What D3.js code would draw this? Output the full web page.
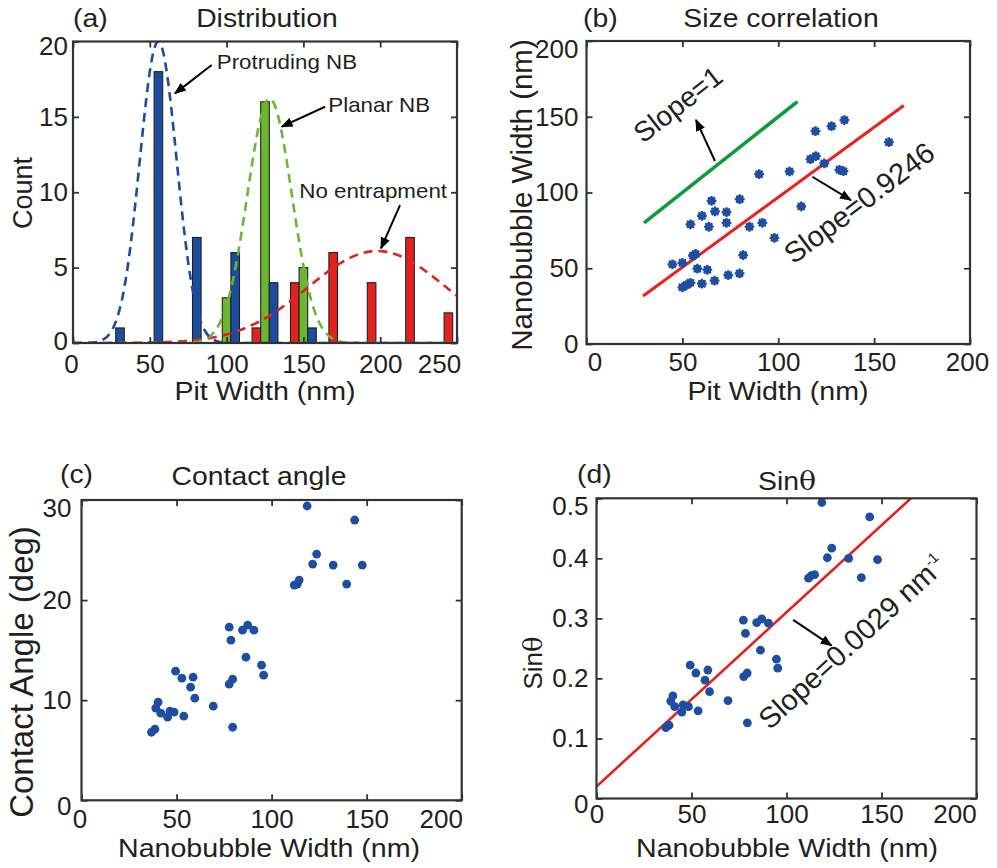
<!DOCTYPE html>
<html><head><meta charset="utf-8">
<script src="https://cdn.jsdelivr.net/npm/d3@7"></script>
<style>body{margin:0;background:#fff}</style>
</head><body>
<svg id="c" width="997" height="868" xmlns="http://www.w3.org/2000/svg"></svg>
<script>
// ---------- Panel (a): Distribution ----------
const binCenters = [25, 50, 75, 100, 125, 150, 175, 200, 225, 250];
const seriesNames = ["No entrapment", "Planar NB", "Protruding NB"];
const noEntrapCounts = [0, 0, 0, 0, 1, 4, 6, 4, 7, 2];
const planarCounts = [0, 0, 0, 3, 16, 5, 0, 0, 0, 0];
const protrudingCounts = [1, 18, 7, 6, 4, 1, 0, 0, 0, 0];
// Gaussian fits (amplitude, centre, sigma) in the same series order
const gaussAmp = [6.1, 16.2, 20];
const gaussMu = [198, 128, 55.5];
const gaussSigma = [45, 14.5, 12];
const xTicksA = [0, 50, 100, 150, 200, 250];
const yTicksA = [0, 5, 10, 15, 20];

// ---------- Panel (b): Size correlation ----------
const pitWidthB = [44.8, 50, 54.2, 55.5, 56.9, 57.8, 60.2, 63, 63.8, 65.2, 67, 73, 73, 66.8, 60.2, 54.2, 52.1, 50, 73.9, 79.8, 79.9, 81.7, 85, 90, 91.7, 98, 105.9, 112, 116.8, 119.6, 124, 119.4, 127.8, 134.5, 131.9, 134, 157.7];
const nbWidthB = [52.6, 53.6, 79, 58.3, 59.4, 49.7, 84.6, 49, 77.4, 94.5, 87.5, 87.1, 80, 41.8, 39.8, 40.4, 38.9, 37.4, 45.5, 46.6, 95.6, 58.7, 77.4, 112.1, 80, 70.1, 113.9, 90.8, 122, 124, 119.2, 140.5, 143.8, 147.8, 115, 114.1, 133.2];
const refLineX = [30, 110], refLineY = [80, 160];          // slope = 1
const fitLineBX = [29.5, 165.5], fitLineBY = [31.7, 157.4]; // slope = 0.9246
const ticksB = [0, 50, 100, 150, 200];

// ---------- Panel (c): Contact angle ----------
const nbWidthC = [118.7, 143.7, 123.7, 121.6, 132.4, 147.7, 139.5, 111.9, 113.5, 114.5, 77.7, 84.7, 87.4, 90.7, 78.6, 86.5, 94.7, 95.8, 49.5, 52.8, 58.7, 57.4, 59.6, 77.7, 79.5, 69.3, 79.5, 40.3, 39.1, 41.7, 46.5, 48.7, 45.3, 53.8, 36.8, 38.6];
const contactAngle = [29.4, 28.0, 24.6, 23.6, 23.5, 23.5, 21.6, 21.5, 21.6, 22.0, 17.3, 17.0, 17.5, 17.0, 16.0, 14.3, 13.5, 12.5, 12.9, 12.2, 12.3, 11.3, 10.2, 11.6, 12.1, 9.4, 7.3, 9.8, 9.2, 8.7, 8.9, 8.8, 8.3, 8.4, 6.8, 7.1];
const xTicksC = [0, 50, 100, 150, 200];
const yTicksC = [0, 10, 20, 30];

// ---------- Panel (d): Sin theta ----------
const nbWidthD = [118.6, 143.8, 123.8, 121.5, 132.7, 147.9, 139.4, 111.6, 113, 114.8, 77.3, 84.3, 87, 90.5, 78.4, 86.3, 94.7, 95.4, 77.5, 79.3, 69.2, 79.4, 49.3, 52.3, 58.6, 57.1, 59.5, 40.2, 39.1, 41.2, 45.6, 48.4, 44.9, 53.5, 36.5, 38.2];
const sinTheta = [0.493, 0.469, 0.417, 0.401, 0.400, 0.398, 0.368, 0.367, 0.371, 0.373, 0.297, 0.293, 0.299, 0.292, 0.275, 0.247, 0.232, 0.217, 0.203, 0.209, 0.163, 0.126, 0.222, 0.209, 0.214, 0.197, 0.178, 0.171, 0.162, 0.153, 0.156, 0.153, 0.144, 0.146, 0.118, 0.122];
const fitLineDX = [0, 165.5], fitLineDY = [0.02, 0.5];      // slope = 0.0029 nm^-1
const xTicksD = [0, 50, 100, 150, 200];
const yTicksD = [0, 0.1, 0.2, 0.3, 0.4, 0.5];

// ================= drawing =================
const svg = d3.select("#c");
const FONT = "'Liberation Sans', Arial, Helvetica, sans-serif";
const INK = "#231f20";
const BOX = "#333333";
const BLUE = "#1b4c9e", GREEN = "#6cb632", RED = "#e3211f";
const DOT = "#1d4ea2";
const SX = 1.09; // horizontal stretch of the original lettering

const defs = svg.append("defs");
defs.append("marker").attr("id", "arr").attr("viewBox", "0 0 10 10")
  .attr("refX", 9).attr("refY", 5).attr("markerWidth", 6).attr("markerHeight", 6)
  .attr("markerUnits", "strokeWidth").attr("orient", "auto")
  .append("path").attr("d", "M0,1 L10,5 L0,9 Z").attr("fill", "#000");

function htext(g, x, y, str, size, anchor, sx) {
  return g.append("text")
    .attr("transform", `translate(${x},${y}) scale(${sx || SX},1)`)
    .attr("text-anchor", anchor || "middle")
    .attr("font-family", FONT).attr("font-size", size).attr("fill", INK)
    .text(str);
}
function rtext(g, x, y, str, size, angle, anchor) {
  return g.append("text")
    .attr("transform", `translate(${x},${y}) rotate(${angle})`)
    .attr("text-anchor", anchor || "middle")
    .attr("font-family", FONT).attr("font-size", size).attr("fill", INK)
    .text(str);
}
function arrow(g, x1, y1, x2, y2) {
  g.append("line").attr("x1", x1).attr("y1", y1).attr("x2", x2).attr("y2", y2)
    .attr("stroke", "#000").attr("stroke-width", 2).attr("marker-end", "url(#arr)");
}

function makePanel(c) {
  const g = svg.append("g");
  const x = d3.scaleLinear().domain(c.xd).range([c.l, c.r]);
  const y = d3.scaleLinear().domain(c.yd).range([c.b, c.t]);
  const clipId = "clip" + c.id;
  defs.append("clipPath").attr("id", clipId).append("rect")
    .attr("x", c.l).attr("y", c.t).attr("width", c.r - c.l).attr("height", c.b - c.t);
  const plot = g.append("g").attr("clip-path", `url(#${clipId})`);
  return { g, x, y, plot, c };
}

function finishAxes(p) {
  const { g, x, y, c } = p;
  const fmtX = c.xf || d3.format("d");
  const fmtY = c.yf || d3.format("d");
  const styleAxis = sel => {
    sel.select(".domain").remove();
    sel.selectAll(".tick line").attr("stroke", BOX).attr("stroke-width", 1.8);
    sel.selectAll(".tick text").attr("fill", INK).attr("font-family", FONT).attr("font-size", 26);
  };
  const bx = g.append("g").attr("transform", `translate(0,${c.b})`)
    .call(d3.axisBottom(x).tickValues(c.xt).tickSizeInner(-6).tickSizeOuter(0).tickPadding(c.xpad).tickFormat(fmtX))
    .call(styleAxis);
  bx.selectAll(".tick text").attr("transform", (d, i, n) =>
    `translate(${i === 0 ? c.x0dx : (i === n.length - 1 ? c.xNdx : 0)},0)`);
  g.append("g").attr("transform", `translate(0,${c.t})`)
    .call(d3.axisTop(x).tickValues(c.xt).tickSizeInner(-6).tickSizeOuter(0).tickFormat(""))
    .call(styleAxis);
  const ly = g.append("g").attr("transform", `translate(${c.l},0)`)
    .call(d3.axisLeft(y).tickValues(c.yt).tickSizeInner(-6).tickSizeOuter(0).tickPadding(c.ypad).tickFormat(fmtY))
    .call(styleAxis);
  ly.selectAll(".tick text").attr("transform", (d, i, n) =>
    `translate(0,${i === 0 ? c.y0dy : (i === n.length - 1 ? c.yNdy : 0)})`);
  g.append("g").attr("transform", `translate(${c.r},0)`)
    .call(d3.axisRight(y).tickValues(c.yt).tickSizeInner(-6).tickSizeOuter(0).tickFormat(""))
    .call(styleAxis);
  g.append("rect").attr("x", c.l).attr("y", c.t).attr("width", c.r - c.l).attr("height", c.b - c.t)
    .attr("fill", "none").attr("stroke", BOX).attr("stroke-width", 2.2);
}

// ---------- (a) ----------
{
  const p = makePanel({ id: "a", l: 73, r: 457, t: 41.5, b: 343, xd: [0, 250], yd: [0, 20],
    xt: xTicksA, yt: yTicksA, xpad: 11.5, ypad: 5, x0dx: -2, xNdx: -18, y0dy: -2, yNdy: 5 });
  const { x, y, plot, g } = p;
  const sub = d3.scaleBand().domain(seriesNames).range([-8.4, 8.4]);
  const colors = [RED, GREEN, BLUE];
  const counts = [noEntrapCounts, planarCounts, protrudingCounts];
  seriesNames.forEach((name, si) => {
    plot.append("g").selectAll("rect").data(binCenters.map((b, i) => ({ b, v: counts[si][i] })).filter(d => d.v > 0))
      .join("rect")
      .attr("x", d => x(d.b + sub(name)))
      .attr("width", d => x(d.b + sub(name) + sub.bandwidth()) - x(d.b + sub(name)))
      .attr("y", d => y(d.v)).attr("height", d => y(0) - y(d.v))
      .attr("fill", colors[si]).attr("stroke", "#222").attr("stroke-width", 1.1);
  });
  const xs = d3.range(0, 251, 1);
  seriesNames.forEach((name, si) => {
    const f = t => gaussAmp[si] * Math.exp(-((t - gaussMu[si]) ** 2) / (2 * gaussSigma[si] ** 2));
    plot.append("path").datum(xs)
      .attr("d", d3.line().x(t => x(t)).y(t => y(f(t))))
      .attr("fill", "none").attr("stroke", colors[si]).attr("stroke-width", 2.6)
      .attr("stroke-dasharray", "9,6");
  });
  finishAxes(p);
  htext(g, 73, 27, "(a)", 26, "start");
  htext(g, 267, 27, "Distribution", 26);
  htext(g, 265, 400, "Pit Width (nm)", 26, "middle", 1.1);
  rtext(g, 32, 193, "Count", 27, -90);
  // annotations
  htext(g, x(93.6), y(18.17), "Protruding NB", 20.5, "start");
  arrow(g, x(90.3), y(18.44), x(66.4), y(16.56));
  htext(g, x(166.2), y(15.34), "Planar NB", 20.5, "start");
  arrow(g, x(164.1), y(15.67), x(135.9), y(14.35));
  htext(g, x(147.3), y(9.6), "No entrapment", 20.5, "start");
  arrow(g, x(212.9), y(9.15), x(200.5), y(6.28));
}

// ---------- (b) ----------
{
  const p = makePanel({ id: "b", l: 586.5, r: 970, t: 41, b: 344, xd: [0, 200], yd: [0, 200],
    xt: ticksB, yt: ticksB, xpad: 9, ypad: 8, x0dx: 8, xNdx: -3, y0dy: 0, yNdy: 8 });
  const { x, y, plot, g } = p;
  plot.append("line").attr("x1", x(refLineX[0])).attr("y1", y(refLineY[0]))
    .attr("x2", x(refLineX[1])).attr("y2", y(refLineY[1]))
    .attr("stroke", "#0f9a3e").attr("stroke-width", 3.6);
  plot.append("line").attr("x1", x(fitLineBX[0])).attr("y1", y(fitLineBY[0]))
    .attr("x2", x(fitLineBX[1])).attr("y2", y(fitLineBY[1]))
    .attr("stroke", "#e8221d").attr("stroke-width", 3);
  const pts = pitWidthB.map((v, i) => [v, nbWidthB[i]]);
  const star = plot.append("g").selectAll("g").data(pts).join("g")
    .attr("transform", d => `translate(${x(d[0])},${y(d[1])})`);
  star.append("circle").attr("r", 3.9).attr("fill", DOT);
  star.append("path").attr("d", d3.range(4).map(k => {
      const a = k * Math.PI / 4, r = 4.9;
      return `M${(-r * Math.cos(a)).toFixed(2)},${(-r * Math.sin(a)).toFixed(2)}L${(r * Math.cos(a)).toFixed(2)},${(r * Math.sin(a)).toFixed(2)}`;
    }).join(""))
    .attr("stroke", DOT).attr("stroke-width", 2.2);
  finishAxes(p);
  htext(g, 583, 27, "(b)", 26, "start");
  htext(g, 781, 27, "Size correlation", 26);
  htext(g, 778, 400, "Pit Width (nm)", 26, "middle", 1.1);
  rtext(g, 532, 195, "Nanobubble Width (nm)", 29.5, -90);
  rtext(g, x(29.5), y(132), "Slope=1", 28, -38, "start");
  arrow(g, x(67), y(120.8), x(57.1), y(147.9));
  rtext(g, x(107.9), y(52.1), "Slope=0.9246", 29, -37, "start");
  arrow(g, x(117.8), y(110.4), x(137.9), y(95));
}

// ---------- (c) ----------
{
  const p = makePanel({ id: "c", l: 81.5, r: 461.7, t: 500, b: 800.3, xd: [0, 200], yd: [0, 30],
    xt: xTicksC, yt: yTicksC, xpad: 9.5, ypad: 10, x0dx: -2, xNdx: -21, y0dy: 6, yNdy: 8 });
  const { x, y, plot, g } = p;
  plot.append("g").selectAll("circle").data(nbWidthC.map((v, i) => [v, contactAngle[i]])).join("circle")
    .attr("cx", d => x(d[0])).attr("cy", d => y(d[1])).attr("r", 4.4).attr("fill", DOT);
  finishAxes(p);
  htext(g, 60, 483, "(c)", 26, "start");
  htext(g, 259, 485, "Contact angle", 26);
  htext(g, 269, 856.7, "Nanobubble Width (nm)", 26, "middle", 1.1);
  rtext(g, 33, 672, "Contact Angle (deg)", 33, -90);
}

// ---------- (d) ----------
{
  const p = makePanel({ id: "d", l: 596.5, r: 976.5, t: 498.3, b: 798.5, xd: [0, 200], yd: [0, 0.5],
    xt: xTicksD, yt: yTicksD, xpad: 6.3, ypad: 8, x0dx: 0, xNdx: -22, y0dy: 6, yNdy: 8,
    yf: d => d === 0 ? "0" : d3.format(".1f")(d) });
  const { x, y, plot, g } = p;
  plot.append("line").attr("x1", x(fitLineDX[0])).attr("y1", y(fitLineDY[0]))
    .attr("x2", x(fitLineDX[1])).attr("y2", y(fitLineDY[1]))
    .attr("stroke", "#e0211f").attr("stroke-width", 2.6);
  plot.append("g").selectAll("circle").data(nbWidthD.map((v, i) => [v, sinTheta[i]])).join("circle")
    .attr("cx", d => x(d[0])).attr("cy", d => y(d[1])).attr("r", 4.4).attr("fill", DOT);
  finishAxes(p);
  htext(g, 577, 483, "(d)", 26, "start");
  const t = htext(g, 787, 490, "Sin", 26);
  t.append("tspan").attr("font-family", "'DejaVu Serif', 'Liberation Serif', serif").text("θ");
  htext(g, 787, 856.7, "Nanobubble Width (nm)", 26, "middle", 1.1);
  const yl = rtext(g, 542, 663, "Sin", 26, -90);
  yl.append("tspan").attr("font-family", "'DejaVu Serif', 'Liberation Serif', serif").text("θ");
  const s = rtext(g, x(91.2), y(0.113), "Slope=0.0029 nm", 29, -42.5, "start");
  s.append("tspan").attr("dy", -12).attr("font-size", 15).text("-1");
  arrow(g, x(103.5), y(0.2975), x(123.7), y(0.2547));
}
</script>
</body></html>
